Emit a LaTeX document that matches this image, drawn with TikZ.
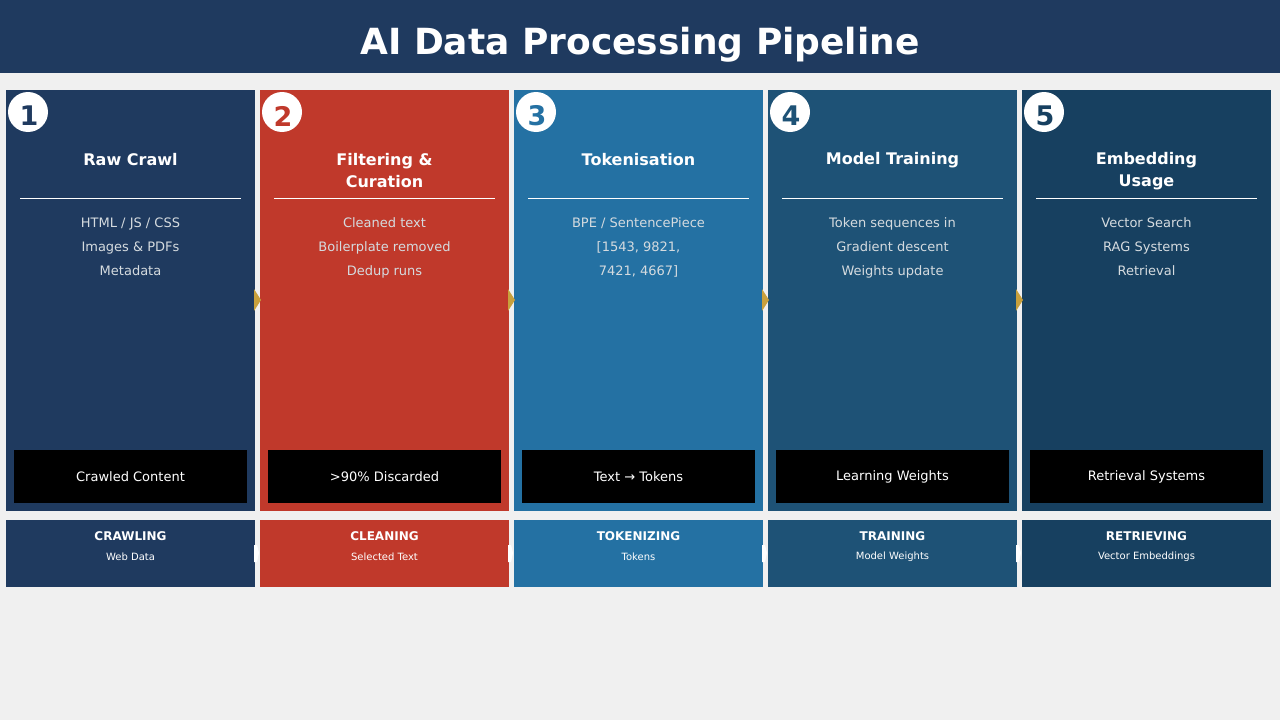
\documentclass[tikz,border=0pt]{standalone}
\usepackage{fontspec}
\setmainfont{DejaVu Sans}
\definecolor{bgc}{HTML}{F0F0F0}
\definecolor{hdr}{HTML}{1F3A5F}
\definecolor{pA}{HTML}{1F3A5F}
\definecolor{pB}{HTML}{C0392B}
\definecolor{pC}{HTML}{2471A3}
\definecolor{pD}{HTML}{1E5276}
\definecolor{pE}{HTML}{174060}
\definecolor{bodyc}{HTML}{D5DBDF}
\definecolor{gold}{HTML}{C8A03C}
\begin{document}
\begin{tikzpicture}[x=1pt,y=-1pt,
  panel/.style={draw=none,inner sep=0,outer sep=0,minimum width=249pt,minimum height=421pt,anchor=north west},
  lowbox/.style={draw=none,inner sep=0,outer sep=0,minimum width=249pt,minimum height=67pt,anchor=north west},
  blackbox/.style={fill=black,inner sep=0,outer sep=0,minimum width=233pt,minimum height=53pt,anchor=north west,text=white,font=\fontsize{13}{15}\selectfont},
  numc/.style={circle,fill=white,inner sep=0,minimum size=40pt},
  numt/.style={font=\fontsize{27}{27}\selectfont\bfseries,anchor=center},
  ptitle/.style={text=white,font=\fontsize{16}{22}\selectfont\bfseries,align=center,anchor=center},
  pbody/.style={text=bodyc,font=\fontsize{13}{24}\selectfont,align=center,anchor=north},
  ltitle/.style={text=white,font=\fontsize{12}{14}\selectfont\bfseries,anchor=center},
  lsub/.style={text=white,font=\fontsize{10}{11}\selectfont,anchor=center},
  garrow/.style={fill=gold,draw=none},
  warrow/.style={fill=white,draw=none}]
\useasboundingbox (0,0) rectangle (1280,720);
\fill[bgc] (0,0) rectangle (1280,720);
\node[fill=hdr,inner sep=0,minimum width=1280pt,minimum height=73pt,anchor=north west] (header) at (0,0) {};
\node[text=white,font=\fontsize{36}{36}\selectfont\bfseries,anchor=base] (htitle) at (640,54) {AI Data Processing Pipeline};
% panels
\foreach \i/\x/\c/\n in {1/6/pA/1,2/260/pB/2,3/514/pC/3,4/768/pD/4,5/1022/pE/5}{
  \node[panel,fill=\c] (p\i) at (\x,90) {};
  \node[lowbox,fill=\c] (l\i) at (\x,520) {};
  \node[numc] (n\i) at (\x+22,112) {};
  \node[numt,text=\c] (nt\i) at (\x+23,116) {\n};
  \draw[white,line width=0.9pt] (\x+14,198) -- (\x+235,198);
  \node[blackbox] (b\i) at (\x+8,450) {};
}
\node[ptitle] (t1) at (130.5,160) {Raw Crawl};
\node[ptitle] (t2) at (384.5,171) {Filtering \&\\Curation};
\node[ptitle] (t3) at (638.5,160) {Tokenisation};
\node[ptitle] (t4) at (892.5,160) {Model Training};
\node[ptitle] (t5) at (1146.5,171) {Embedding\\Usage};
\node[pbody] (d1) at (130.5,214) {HTML / JS / CSS\\Images \& PDFs\\Metadata};
\node[pbody] (d2) at (384.5,214) {Cleaned text\\Boilerplate removed\\Dedup runs};
\node[pbody] (d3) at (638.5,214) {BPE / SentencePiece\\{}[1543, 9821,\\7421, 4667]};
\node[pbody] (d4) at (892.5,214) {Token sequences in\\Gradient descent\\Weights update};
\node[pbody] (d5) at (1146.5,214) {Vector Search\\RAG Systems\\Retrieval};
\node[text=white,font=\fontsize{13}{15}\selectfont] (k1) at (b1.center) {Crawled Content};
\node[text=white,font=\fontsize{13}{15}\selectfont] (k2) at (b2.center) {>90\% Discarded};
\node[text=white,font=\fontsize{13}{15}\selectfont] (k3) at (b3.center) {Text → Tokens};
\node[text=white,font=\fontsize{13}{15}\selectfont] (k4) at (b4.center) {Learning Weights};
\node[text=white,font=\fontsize{13}{15}\selectfont] (k5) at (b5.center) {Retrieval Systems};
\foreach \i/\x/\a/\b in {1/130.5/CRAWLING/Web Data,2/384.5/CLEANING/Selected Text,3/638.5/TOKENIZING/Tokens,4/892.5/TRAINING/Model Weights,5/1146.5/RETRIEVING/Vector Embeddings}{
  \node[ltitle] (lt\i) at (\x,536) {\a};
  \node[lsub] (ls\i) at (\x,557) {\b};
}
% arrows between panels
\foreach \i/\x in {1/254,2/508,3/762,4/1016}{
  \fill[garrow] (\x,289) -- (\x+7,300) -- (\x,311) -- cycle;
  \fill[warrow] (\x,545) -- (\x+3,545) -- (\x+5,553) -- (\x+3,562) -- (\x,562) -- cycle;
}
\end{tikzpicture}
\end{document}
